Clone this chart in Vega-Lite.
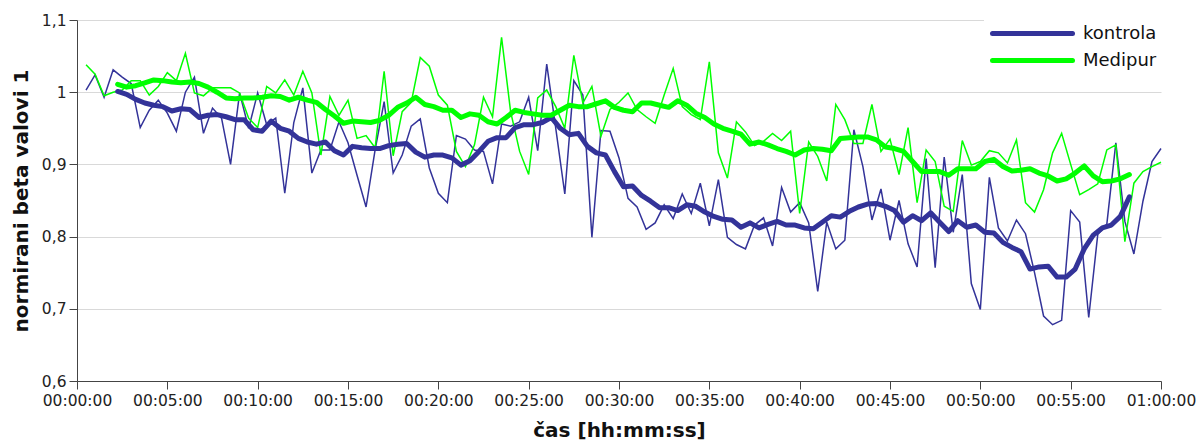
{
  "$schema": "https://vega.github.io/schema/vega-lite/v6.json",
  "width": 1084,
  "height": 361,
  "autosize": {"type": "none"},
  "padding": {"left": 77, "top": 20, "right": 39, "bottom": 63},
  "background": "white",
  "config": {"view": {"stroke": null}, "font": "DejaVu Sans"},
  "datasets": {
    "kontrola_raw": [
      {"t":30,"v":1.003},{"t":60,"v":1.024},{"t":90,"v":0.993},{"t":120,"v":1.031},{"t":150,"v":1.021},{"t":180,"v":1.012},{"t":210,"v":0.951},{"t":240,"v":0.975},{"t":270,"v":0.989},{"t":300,"v":0.971},
      {"t":330,"v":0.946},{"t":360,"v":1.000},{"t":390,"v":1.021},{"t":420,"v":0.943},{"t":450,"v":0.978},{"t":480,"v":0.964},{"t":510,"v":0.900},{"t":540,"v":0.999},{"t":570,"v":0.950},{"t":600,"v":0.999},
      {"t":630,"v":0.955},{"t":660,"v":0.964},{"t":690,"v":0.860},{"t":720,"v":0.958},{"t":750,"v":1.006},{"t":780,"v":0.888},{"t":810,"v":0.920},{"t":840,"v":0.920},{"t":870,"v":0.959},{"t":900,"v":0.930},
      {"t":930,"v":0.885},{"t":960,"v":0.841},{"t":990,"v":0.920},{"t":1020,"v":0.987},{"t":1050,"v":0.888},{"t":1080,"v":0.913},{"t":1110,"v":0.953},{"t":1140,"v":0.963},{"t":1170,"v":0.895},{"t":1200,"v":0.860},
      {"t":1230,"v":0.847},{"t":1260,"v":0.940},{"t":1290,"v":0.935},{"t":1320,"v":0.920},{"t":1350,"v":0.918},{"t":1380,"v":0.873},{"t":1410,"v":0.956},{"t":1440,"v":0.953},{"t":1470,"v":0.959},{"t":1500,"v":0.993},
      {"t":1530,"v":0.919},{"t":1560,"v":1.039},{"t":1590,"v":0.950},{"t":1620,"v":0.859},{"t":1650,"v":1.016},{"t":1680,"v":0.996},{"t":1710,"v":0.799},{"t":1740,"v":0.947},{"t":1770,"v":0.946},{"t":1800,"v":0.909},
      {"t":1830,"v":0.853},{"t":1860,"v":0.841},{"t":1890,"v":0.810},{"t":1920,"v":0.819},{"t":1950,"v":0.844},{"t":1980,"v":0.825},{"t":2010,"v":0.859},{"t":2040,"v":0.832},{"t":2070,"v":0.874},{"t":2100,"v":0.815},
      {"t":2130,"v":0.879},{"t":2160,"v":0.799},{"t":2190,"v":0.789},{"t":2220,"v":0.783},{"t":2250,"v":0.816},{"t":2280,"v":0.826},{"t":2310,"v":0.787},{"t":2340,"v":0.868},{"t":2370,"v":0.834},{"t":2400,"v":0.847},
      {"t":2430,"v":0.819},{"t":2460,"v":0.724},{"t":2490,"v":0.820},{"t":2520,"v":0.783},{"t":2550,"v":0.795},{"t":2580,"v":0.948},{"t":2610,"v":0.897},{"t":2640,"v":0.823},{"t":2670,"v":0.866},{"t":2700,"v":0.795},
      {"t":2730,"v":0.850},{"t":2760,"v":0.790},{"t":2790,"v":0.758},{"t":2820,"v":0.908},{"t":2850,"v":0.757},{"t":2880,"v":0.910},{"t":2910,"v":0.806},{"t":2940,"v":0.886},{"t":2970,"v":0.735},{"t":3000,"v":0.699},
      {"t":3030,"v":0.882},{"t":3060,"v":0.812},{"t":3090,"v":0.794},{"t":3120,"v":0.823},{"t":3150,"v":0.804},{"t":3180,"v":0.750},{"t":3210,"v":0.690},{"t":3240,"v":0.678},{"t":3270,"v":0.684},{"t":3300,"v":0.836},
      {"t":3330,"v":0.820},{"t":3360,"v":0.688},{"t":3390,"v":0.803},{"t":3420,"v":0.817},{"t":3450,"v":0.930},{"t":3480,"v":0.821},{"t":3510,"v":0.776},{"t":3540,"v":0.849},{"t":3570,"v":0.904},{"t":3600,"v":0.922}
    ],
    "medipur_raw": [
      {"t":30,"v":1.038},{"t":60,"v":1.025},{"t":90,"v":0.995},{"t":120,"v":1.000},{"t":150,"v":1.003},{"t":180,"v":1.016},{"t":210,"v":1.016},{"t":240,"v":0.996},{"t":270,"v":1.008},{"t":300,"v":1.027},
      {"t":330,"v":1.016},{"t":360,"v":1.054},{"t":390,"v":0.999},{"t":420,"v":0.995},{"t":450,"v":1.006},{"t":480,"v":1.006},{"t":510,"v":1.006},{"t":540,"v":0.999},{"t":570,"v":0.964},{"t":600,"v":0.951},
      {"t":630,"v":1.008},{"t":660,"v":0.999},{"t":690,"v":1.017},{"t":720,"v":0.996},{"t":750,"v":1.029},{"t":780,"v":0.999},{"t":810,"v":0.913},{"t":840,"v":0.994},{"t":870,"v":0.968},{"t":900,"v":0.989},
      {"t":930,"v":0.936},{"t":960,"v":0.940},{"t":990,"v":0.923},{"t":1020,"v":1.029},{"t":1050,"v":0.912},{"t":1080,"v":0.973},{"t":1110,"v":0.986},{"t":1140,"v":1.048},{"t":1170,"v":1.036},{"t":1200,"v":0.996},
      {"t":1230,"v":0.982},{"t":1260,"v":0.918},{"t":1290,"v":0.897},{"t":1320,"v":0.927},{"t":1350,"v":0.993},{"t":1380,"v":0.966},{"t":1410,"v":1.076},{"t":1440,"v":0.973},{"t":1470,"v":0.918},{"t":1500,"v":0.886},
      {"t":1530,"v":0.992},{"t":1560,"v":1.003},{"t":1590,"v":0.980},{"t":1620,"v":0.950},{"t":1650,"v":1.051},{"t":1680,"v":0.985},{"t":1710,"v":1.008},{"t":1740,"v":0.939},{"t":1770,"v":0.976},{"t":1800,"v":0.986},
      {"t":1830,"v":0.999},{"t":1860,"v":0.976},{"t":1890,"v":0.966},{"t":1920,"v":0.957},{"t":1950,"v":0.996},{"t":1980,"v":1.033},{"t":2010,"v":0.980},{"t":2040,"v":0.969},{"t":2070,"v":0.962},{"t":2100,"v":1.042},
      {"t":2130,"v":0.916},{"t":2160,"v":0.881},{"t":2190,"v":0.959},{"t":2220,"v":0.945},{"t":2250,"v":0.926},{"t":2280,"v":0.932},{"t":2310,"v":0.943},{"t":2340,"v":0.933},{"t":2370,"v":0.946},{"t":2400,"v":0.832},
      {"t":2430,"v":0.931},{"t":2460,"v":0.911},{"t":2490,"v":0.877},{"t":2520,"v":0.983},{"t":2550,"v":0.962},{"t":2580,"v":0.929},{"t":2610,"v":0.929},{"t":2640,"v":0.983},{"t":2670,"v":0.918},{"t":2700,"v":0.935},
      {"t":2730,"v":0.886},{"t":2760,"v":0.951},{"t":2790,"v":0.847},{"t":2820,"v":0.920},{"t":2850,"v":0.904},{"t":2880,"v":0.842},{"t":2910,"v":0.835},{"t":2940,"v":0.933},{"t":2970,"v":0.899},{"t":3000,"v":0.904},
      {"t":3030,"v":0.919},{"t":3060,"v":0.916},{"t":3090,"v":0.902},{"t":3120,"v":0.934},{"t":3150,"v":0.847},{"t":3180,"v":0.834},{"t":3210,"v":0.865},{"t":3240,"v":0.916},{"t":3270,"v":0.943},{"t":3300,"v":0.900},
      {"t":3330,"v":0.858},{"t":3360,"v":0.865},{"t":3390,"v":0.873},{"t":3420,"v":0.920},{"t":3450,"v":0.927},{"t":3480,"v":0.793},{"t":3510,"v":0.874},{"t":3540,"v":0.890},{"t":3570,"v":0.897},{"t":3600,"v":0.903}
    ],
    "kontrola_avg": [
      {"t":135,"v":1.001},{"t":165,"v":0.997},{"t":195,"v":0.990},{"t":225,"v":0.985},{"t":255,"v":0.982},{"t":285,"v":0.980},{"t":315,"v":0.974},{"t":345,"v":0.977},{"t":375,"v":0.976},{"t":405,"v":0.965},
      {"t":435,"v":0.968},{"t":465,"v":0.969},{"t":495,"v":0.966},{"t":525,"v":0.962},{"t":555,"v":0.962},{"t":585,"v":0.948},{"t":615,"v":0.946},{"t":645,"v":0.960},{"t":675,"v":0.950},{"t":705,"v":0.946},
      {"t":735,"v":0.936},{"t":765,"v":0.931},{"t":795,"v":0.928},{"t":825,"v":0.931},{"t":855,"v":0.919},{"t":885,"v":0.913},{"t":915,"v":0.925},{"t":945,"v":0.923},{"t":975,"v":0.922},{"t":1005,"v":0.922},
      {"t":1035,"v":0.926},{"t":1065,"v":0.928},{"t":1095,"v":0.929},{"t":1125,"v":0.917},{"t":1155,"v":0.910},{"t":1185,"v":0.913},{"t":1215,"v":0.913},{"t":1245,"v":0.909},{"t":1275,"v":0.899},{"t":1305,"v":0.905},
      {"t":1335,"v":0.918},{"t":1365,"v":0.932},{"t":1395,"v":0.937},{"t":1425,"v":0.937},{"t":1455,"v":0.951},{"t":1485,"v":0.955},{"t":1515,"v":0.955},{"t":1545,"v":0.958},{"t":1575,"v":0.965},{"t":1605,"v":0.950},
      {"t":1635,"v":0.941},{"t":1665,"v":0.943},{"t":1695,"v":0.925},{"t":1725,"v":0.916},{"t":1755,"v":0.913},{"t":1785,"v":0.890},{"t":1815,"v":0.869},{"t":1845,"v":0.870},{"t":1875,"v":0.857},{"t":1905,"v":0.849},
      {"t":1935,"v":0.840},{"t":1965,"v":0.840},{"t":1995,"v":0.836},{"t":2025,"v":0.844},{"t":2055,"v":0.842},{"t":2085,"v":0.834},{"t":2115,"v":0.828},{"t":2145,"v":0.824},{"t":2175,"v":0.823},{"t":2205,"v":0.813},
      {"t":2235,"v":0.819},{"t":2265,"v":0.812},{"t":2295,"v":0.817},{"t":2325,"v":0.821},{"t":2355,"v":0.816},{"t":2385,"v":0.816},{"t":2415,"v":0.812},{"t":2445,"v":0.811},{"t":2475,"v":0.820},{"t":2505,"v":0.829},
      {"t":2535,"v":0.827},{"t":2565,"v":0.835},{"t":2595,"v":0.841},{"t":2625,"v":0.845},{"t":2655,"v":0.846},{"t":2685,"v":0.842},{"t":2715,"v":0.836},{"t":2745,"v":0.820},{"t":2775,"v":0.829},{"t":2805,"v":0.822},
      {"t":2835,"v":0.833},{"t":2865,"v":0.820},{"t":2895,"v":0.807},{"t":2925,"v":0.822},{"t":2955,"v":0.813},{"t":2985,"v":0.816},{"t":3015,"v":0.806},{"t":3045,"v":0.805},{"t":3075,"v":0.792},{"t":3105,"v":0.785},
      {"t":3135,"v":0.779},{"t":3165,"v":0.755},{"t":3195,"v":0.758},{"t":3225,"v":0.759},{"t":3255,"v":0.744},{"t":3285,"v":0.744},{"t":3315,"v":0.755},{"t":3345,"v":0.783},{"t":3375,"v":0.802},{"t":3405,"v":0.812},
      {"t":3435,"v":0.816},{"t":3465,"v":0.828},{"t":3495,"v":0.855}
    ],
    "medipur_avg": [
      {"t":135,"v":1.011},{"t":165,"v":1.007},{"t":195,"v":1.009},{"t":225,"v":1.013},{"t":255,"v":1.017},{"t":285,"v":1.016},{"t":315,"v":1.014},{"t":345,"v":1.013},{"t":375,"v":1.014},{"t":405,"v":1.012},
      {"t":435,"v":1.007},{"t":465,"v":1.000},{"t":495,"v":0.992},{"t":525,"v":0.991},{"t":555,"v":0.992},{"t":585,"v":0.992},{"t":615,"v":0.993},{"t":645,"v":0.995},{"t":675,"v":0.994},{"t":705,"v":0.989},
      {"t":735,"v":0.993},{"t":765,"v":0.989},{"t":795,"v":0.986},{"t":825,"v":0.976},{"t":855,"v":0.967},{"t":885,"v":0.957},{"t":915,"v":0.960},{"t":945,"v":0.959},{"t":975,"v":0.958},{"t":1005,"v":0.961},
      {"t":1035,"v":0.968},{"t":1065,"v":0.979},{"t":1095,"v":0.985},{"t":1125,"v":0.993},{"t":1155,"v":0.983},{"t":1185,"v":0.980},{"t":1215,"v":0.975},{"t":1245,"v":0.975},{"t":1275,"v":0.965},{"t":1305,"v":0.970},
      {"t":1335,"v":0.968},{"t":1365,"v":0.959},{"t":1395,"v":0.956},{"t":1425,"v":0.965},{"t":1455,"v":0.975},{"t":1485,"v":0.972},{"t":1515,"v":0.970},{"t":1545,"v":0.968},{"t":1575,"v":0.968},{"t":1605,"v":0.975},
      {"t":1635,"v":0.982},{"t":1665,"v":0.980},{"t":1695,"v":0.980},{"t":1725,"v":0.984},{"t":1755,"v":0.988},{"t":1785,"v":0.979},{"t":1815,"v":0.975},{"t":1845,"v":0.973},{"t":1875,"v":0.985},{"t":1905,"v":0.985},
      {"t":1935,"v":0.982},{"t":1965,"v":0.979},{"t":1995,"v":0.988},{"t":2025,"v":0.982},{"t":2055,"v":0.971},{"t":2085,"v":0.965},{"t":2115,"v":0.956},{"t":2145,"v":0.950},{"t":2175,"v":0.946},{"t":2205,"v":0.942},
      {"t":2235,"v":0.928},{"t":2265,"v":0.931},{"t":2295,"v":0.927},{"t":2325,"v":0.922},{"t":2355,"v":0.918},{"t":2385,"v":0.913},{"t":2415,"v":0.920},{"t":2445,"v":0.922},{"t":2475,"v":0.921},{"t":2505,"v":0.919},
      {"t":2535,"v":0.936},{"t":2565,"v":0.937},{"t":2595,"v":0.938},{"t":2625,"v":0.938},{"t":2655,"v":0.934},{"t":2685,"v":0.924},{"t":2715,"v":0.922},{"t":2745,"v":0.918},{"t":2775,"v":0.904},{"t":2805,"v":0.890},
      {"t":2835,"v":0.890},{"t":2865,"v":0.890},{"t":2895,"v":0.885},{"t":2925,"v":0.894},{"t":2955,"v":0.894},{"t":2985,"v":0.894},{"t":3015,"v":0.904},{"t":3045,"v":0.907},{"t":3075,"v":0.897},{"t":3105,"v":0.891},
      {"t":3135,"v":0.892},{"t":3165,"v":0.894},{"t":3195,"v":0.888},{"t":3225,"v":0.884},{"t":3255,"v":0.877},{"t":3285,"v":0.880},{"t":3315,"v":0.888},{"t":3345,"v":0.898},{"t":3375,"v":0.884},{"t":3405,"v":0.876},
      {"t":3435,"v":0.877},{"t":3465,"v":0.880},{"t":3495,"v":0.886}
    ]
  },
  "encoding": {
    "x": {
      "field": "t", "type": "quantitative",
      "scale": {"domain": [0, 3600], "nice": false, "zero": false},
      "axis": {
        "values": [0,300,600,900,1200,1500,1800,2100,2400,2700,3000,3300,3600],
        "labelExpr": "utcFormat(datum.value * 1000, '%H:%M:%S')",
        "grid": false, "labelFlush": false, "labelOverlap": false, "labelBound": false,
        "domainColor": "#444", "tickColor": "#444", "tickSize": 8, "labelPadding": 4,
        "labelFontSize": 15.5, "labelColor": "#222",
        "title": "čas [hh:mm:ss]", "titleFontSize": 20, "titleFontWeight": "bold", "titleColor": "#111", "titlePadding": 12
      }
    },
    "y": {
      "field": "v", "type": "quantitative",
      "scale": {"domain": [0.6, 1.1], "nice": false, "zero": false},
      "axis": {
        "values": [0.6,0.7,0.8,0.9,1.0,1.1],
        "labelExpr": "replace(format(datum.value, '.1~f'), '.', ',')",
        "grid": true, "gridColor": "#d9d9d9", "gridWidth": 1,
        "domainColor": "#444", "tickColor": "#444", "tickSize": 8, "labelPadding": 3,
        "labelFontSize": 15.5, "labelColor": "#222",
        "title": "normirani beta valovi 1", "titleFontSize": 20, "titleFontWeight": "bold", "titleColor": "#111", "titlePadding": 10
      }
    }
  },
  "layer": [
    {
      "data": {"name": "kontrola_raw"},
      "mark": {"type": "line", "strokeWidth": 1.5},
      "encoding": {"color": {"datum": "kontrola", "type": "nominal", "scale": {"domain": ["kontrola", "Medipur"], "range": ["#333399", "#00ff00"]},
        "legend": {"orient": "none", "legendX": 907, "legendY": -5, "title": null, "fillColor": "white", "padding": 6,
          "symbolType": "M-1,0H7", "symbolSize": 400, "symbolStrokeWidth": 5, "labelFontSize": 18, "labelColor": "#111", "labelOffset": 68, "rowPadding": 4,
          "symbolFillColor": "transparent",
          "encode": {"symbols": {"update": {"strokeCap": {"value": "round"}}}}}}}
    },
    {
      "data": {"name": "medipur_raw"},
      "mark": {"type": "line", "strokeWidth": 1.5},
      "encoding": {"color": {"datum": "Medipur", "type": "nominal"}}
    },
    {
      "data": {"name": "kontrola_avg"},
      "mark": {"type": "line", "strokeWidth": 5, "strokeJoin": "round", "strokeCap": "round"},
      "encoding": {"color": {"datum": "kontrola", "type": "nominal"}}
    },
    {
      "data": {"name": "medipur_avg"},
      "mark": {"type": "line", "strokeWidth": 5, "strokeJoin": "round", "strokeCap": "round"},
      "encoding": {"color": {"datum": "Medipur", "type": "nominal"}}
    }
  ]
}
